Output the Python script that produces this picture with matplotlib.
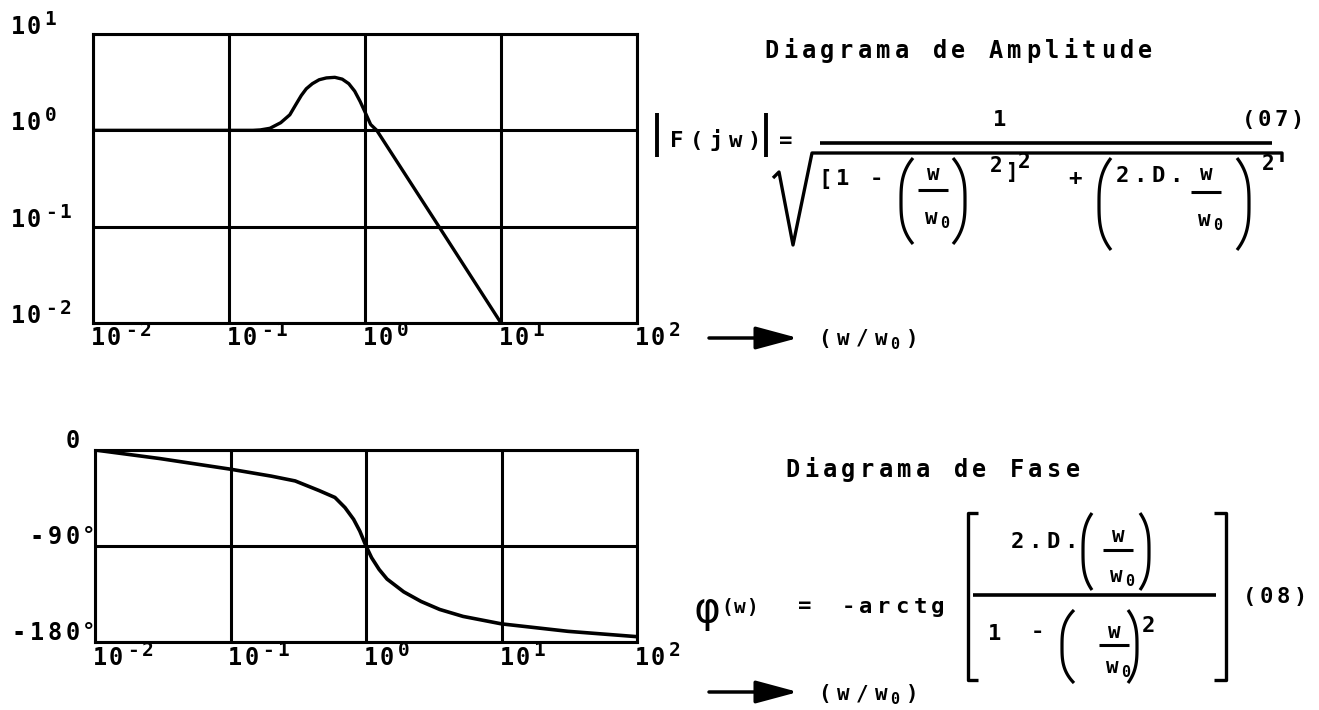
import numpy as np
import matplotlib
matplotlib.use('Agg')
import matplotlib.pyplot as plt
from matplotlib.ticker import FixedLocator, NullLocator

W, H = 1319, 710

# amplitude curve |F(jw)| vs w/w0 (log-log)
amp_w = [0.01, 0.1, 0.15, 0.17, 0.2, 0.24, 0.28, 0.31, 0.34, 0.37, 0.41, 0.46, 0.52, 0.6,
         0.68, 0.76, 0.84, 0.92, 1.0, 1.1, 1.22, 3.5, 10.0]
amp_val = [1.0, 1.0, 1.0, 1.01, 1.05, 1.2, 1.45, 1.85, 2.3, 2.7, 3.05, 3.35, 3.5, 3.55,
           3.4, 3.05, 2.55, 2.0, 1.55, 1.15, 1.0, 0.1, 0.01]

# phase curve in degrees
ph_w = [0.01, 0.03, 0.1, 0.2, 0.3, 0.45, 0.59, 0.7, 0.81, 0.9, 1.0, 1.1, 1.25, 1.43, 1.9,
        2.55, 3.5, 5.2, 10, 31, 100]
ph_deg = [0, -8, -18, -24.5, -29, -38, -44.5, -54, -65, -76, -90, -101, -112, -121, -133,
          -142, -149.5, -156, -163, -170, -175]

x_ticks = [1e-2, 1e-1, 1, 10, 100]
x_exps = ['-2', '-1', '0', '1', '2']
amp_ticks = [10, 1, 0.1, 0.01]
amp_exps = ['1', '0', '-1', '-2']
ph_ticks = [0, -90, -180]
ph_labels = ['0', '-90', '-180']

plt.rcParams['font.family'] = 'DejaVu Sans Mono'
plt.rcParams['font.weight'] = 'bold'

fig = plt.figure(figsize=(W / 100, H / 100), dpi=100)


def px_axes(x0, y0, x1, y1):
    return fig.add_axes([x0 / W, 1 - y1 / H, (x1 - x0) / W, (y1 - y0) / H])


def style(ax):
    ax.xaxis.set_minor_locator(NullLocator())
    ax.yaxis.set_minor_locator(NullLocator())
    ax.grid(True, color='k', lw=2.2)
    ax.tick_params(which='both', length=0, labelbottom=False, labelleft=False)
    for s in ax.spines.values():
        s.set_linewidth(2.2)


ax1 = px_axes(93, 34, 637, 323)
ax1.loglog(amp_w, amp_val, color='k', lw=2.4, solid_joinstyle='round')
ax1.set_xlim(1e-2, 1e2)
ax1.set_ylim(1e-2, 1e1)
ax1.xaxis.set_major_locator(FixedLocator(x_ticks))
ax1.yaxis.set_major_locator(FixedLocator(amp_ticks))
style(ax1)

ax2 = px_axes(95, 450, 637, 642)
ax2.semilogx(ph_w, ph_deg, color='k', lw=2.6, solid_joinstyle='round')
ax2.set_xlim(1e-2, 1e2)
ax2.set_ylim(-180, 0)
ax2.xaxis.set_major_locator(FixedLocator(x_ticks))
ax2.yaxis.set_major_locator(FixedLocator(ph_ticks))
style(ax2)

# overlay in pixel coords for labels and the formulas
ov = fig.add_axes([0, 0, 1, 1])
ov.set_xlim(0, W)
ov.set_ylim(H, 0)
ov.axis('off')
ov.patch.set_alpha(0)


def to_px(ax, x, y):
    X, Y = ax.transData.transform((x, y))
    return X, H - Y


def chars(x, y, s, pitch, size=16):
    # plotter style text, one char per fixed cell
    for i, ch in enumerate(s):
        if ch != ' ':
            ov.text(x + (i + 0.5) * pitch, y, ch, fontsize=size, ha='center', va='baseline')


def pow10(x, y, e, size=17):
    chars(x, y, '10', 16, size)
    chars(x + 33, y - 9, e, 15, size - 3)


def line(xs, ys, lw=2.3):
    ov.plot(xs, ys, color='k', lw=lw, solid_capstyle='butt')


def paren(x_mid, x_end, y0, y1, lw=2.3):
    t = np.linspace(-1, 1, 50)
    line(x_mid + (x_end - x_mid) * np.abs(t) ** 3, (y0 + y1) / 2 + t * (y1 - y0) / 2, lw)


def bracket(x, y0, y1, serif):
    line([x + serif, x, x, x + serif], [y0, y0, y1, y1], 2.4)


def ratio(xc, y_top, y_bar, y_bot, half=15):
    # w over w0
    chars(xc - 10, y_top, 'w', 20, 15)
    line([xc - half, xc + half], [y_bar, y_bar], 2.2)
    chars(xc - 12, y_bot, 'w', 20, 15)
    chars(xc + 6, y_bot + 4, '0', 12, 11)


# tick labels
for w, e in zip(x_ticks, x_exps):
    X, Y = to_px(ax1, w, 1e-2)
    pow10(X - 3, Y + 22, e)
    X, Y = to_px(ax2, w, -180)
    pow10(X - 3, Y + 23, e)

for v, e in zip(amp_ticks, amp_exps):
    _, Y = to_px(ax1, 1e-2, v)
    pow10(10, Y, e)

for v, s in zip(ph_ticks, ph_labels):
    _, Y = to_px(ax2, 1e-2, v)
    chars(82 - len(s) * 18, Y - 2, s, 18, 17)
    if v != 0:
        ov.text(89, Y - 4, '°', fontsize=16, ha='center', va='baseline')

# axis arrows
for y_arr, y_txt in [(338, 345), (692, 700)]:
    ov.annotate('', xy=(798, y_arr), xytext=(709, y_arr),
                arrowprops=dict(arrowstyle='-|>,head_length=1.3,head_width=0.35',
                                lw=2.5, color='k', mutation_scale=20, shrinkA=0, shrinkB=0))
    chars(815, y_txt, '(w/w', 19, 15)
    chars(889, y_txt + 4, '0', 11, 11)
    chars(903, y_txt, ')', 19, 15)

# amplitude formula
chars(762, 58, 'Diagrama de Amplitude', 18.7, 17)
line([657, 657], [113, 157], 2.8)
line([766, 766], [113, 157], 2.8)
chars(667, 147, 'F(jw)', 19.5, 16)
ov.text(786, 141, '=', fontsize=16, ha='center', va='center')
chars(991, 126, '1', 18, 16)
chars(1240, 126, '(07)', 16.5, 16)
line([820, 1272], [143, 143], 2.6)
line([773, 779, 793, 812, 1282, 1282], [178, 172, 245, 153, 153, 162], 2.4)
chars(817, 185, '[1 -', 17, 16)
paren(901, 913, 158, 244)
ratio(933, 180, 190, 224)
paren(965, 953, 158, 244)
chars(988, 172, '2', 16, 15)
ov.text(1012, 178, ']', fontsize=15, ha='center', va='baseline')
chars(1016, 168, '2', 16, 15)
chars(1066, 185, '+', 18, 16)
paren(1099, 1111, 158, 250)
chars(1113, 182, '2.D.', 18, 16)
ratio(1206, 180, 192, 226)
paren(1249, 1237, 158, 250)
chars(1261, 170, '2', 15, 15)

# phase formula
chars(783, 477, 'Diagrama de Fase', 18.7, 17)
ov.text(707, 622, 'φ', fontsize=30, fontweight='normal', ha='center', va='baseline')
chars(721, 613, '(w)', 12.5, 14)
ov.text(805, 606, '=', fontsize=16, ha='center', va='center')
chars(839, 613, '-arctg', 18, 16)
bracket(968, 513, 680, 10)
bracket(1226, 513, 680, -12)
chars(1008, 548, '2.D.', 18, 16)
paren(1083, 1092, 513, 590)
ratio(1118, 542, 550, 582)
paren(1149, 1140, 513, 590)
line([973, 1216], [595, 595], 2.6)
chars(986, 640, '1', 18, 16)
chars(1028, 638, '-', 18, 16)
paren(1062, 1074, 610, 683)
ratio(1114, 638, 645, 673)
paren(1137, 1128, 610, 683)
chars(1139, 632, '2', 18, 16)
chars(1241, 603, '(08)', 17, 16)

fig.savefig('out.png', dpi=100)
